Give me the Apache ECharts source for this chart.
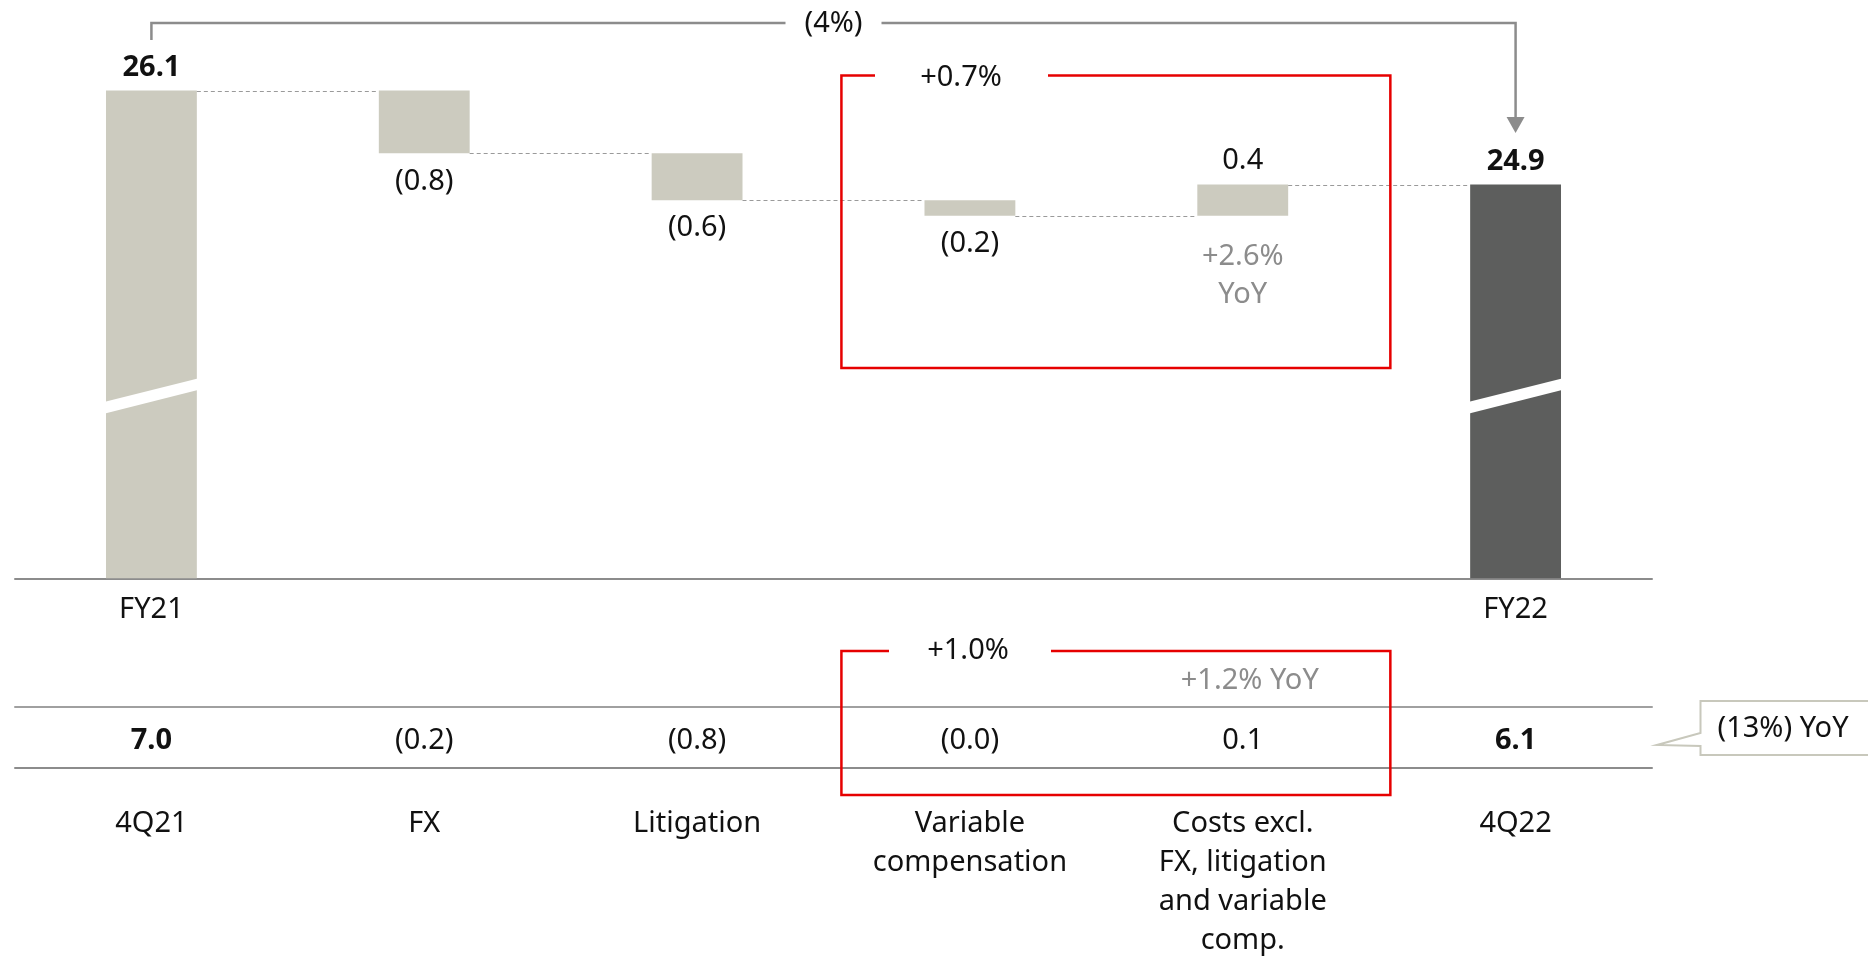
<!DOCTYPE html>
<html>
<head>
<meta charset="utf-8">
<title>Cost bridge</title>
<script src="https://cdn.jsdelivr.net/npm/echarts@6.0.0/dist/echarts.min.js"></script>
<style>
  html, body { margin: 0; padding: 0; background: #fff; }
  #costBridge { width: 1868px; height: 960px; }
</style>
</head>
<body>
<div id="costBridge"></div>
<script>
// chart data
const categories = ['4Q21', 'FX', 'Litigation', 'Variable\ncompensation', 'Costs excl.\nFX, litigation\nand variable\ncomp.', '4Q22'];
const fyLabels = ['FY21', '', '', '', '', 'FY22'];
const fyTotals = [26.1, null, null, null, null, 24.9];
const fyDeltas = [null, -0.8, -0.6, -0.2, 0.4, null];
const fyNotes = ['', '', '', '', '+2.6%\nYoY', ''];
const quarterValues = ['7.0', '(0.2)', '(0.8)', '(0.0)', '0.1', '6.1'];
const totalChange = '(4%)';
const boxChangeFY = '+0.7%';
const boxChangeQ = '+1.0%';
const quarterNote = '+1.2% YoY';
const quarterYoY = '(13%) YoY';

const yMin = 19.87;
const yMax = 26.9;
const breakAt = 22.2; // where the axis break slash sits
const font = 'Noto Sans';
const ink = '#111';
const grey = '#8c8c8c';
const red = '#e60000';

function fmt(v) {
  return v < 0 ? '(' + Math.abs(v).toFixed(1) + ')' : v.toFixed(1);
}

// waterfall rows: [index, low, high, level carried to next bar]
let running = 0;
const rows = categories.map((c, i) => {
  if (fyTotals[i] != null) {
    running = fyTotals[i];
    return [i, yMin, fyTotals[i], fyTotals[i]];
  }
  const start = running;
  running = +(running + fyDeltas[i]).toFixed(1);
  return [i, Math.min(start, running), Math.max(start, running), running];
});

let myChart = echarts.init(document.getElementById('costBridge'));

let option = {
  animation: false,
  textStyle: { fontFamily: font },
  grid: { left: 15, right: 216, top: 28, bottom: 377.3 },
  xAxis: [
    {
      type: 'category',
      data: categories,
      axisLine: { lineStyle: { color: grey, width: 2 } },
      axisTick: { show: false },
      axisLabel: {
        interval: 0, margin: 12, fontSize: 29, lineHeight: 39, color: ink,
        formatter: (v, i) => fyLabels[i]
      }
    },
    {
      type: 'category',
      data: categories,
      position: 'bottom',
      offset: 128.5,
      axisLine: { lineStyle: { color: '#a0a0a0', width: 2 } },
      axisTick: { show: false },
      axisLabel: {
        interval: 0, margin: 14, fontSize: 29, lineHeight: 39, color: ink,
        formatter: (v, i) => (fyTotals[i] != null ? '{b|' + quarterValues[i] + '}' : quarterValues[i]),
        rich: { b: { fontWeight: 'bold', fontSize: 29, lineHeight: 39, color: ink, fontFamily: font } }
      }
    },
    {
      type: 'category',
      data: categories,
      position: 'bottom',
      offset: 189.7,
      axisLine: { lineStyle: { color: grey, width: 2 } },
      axisTick: { show: false },
      axisLabel: { interval: 0, margin: 36, fontSize: 29, lineHeight: 39, color: ink }
    }
  ],
  yAxis: { type: 'value', min: yMin, max: yMax, show: false, splitLine: { show: false } },
  series: [
    {
      type: 'custom',
      data: rows,
      encode: { x: 0, y: [1, 2] },
      renderItem: function (params, api) {
        const i = api.value(0);
        const top = api.coord([i, api.value(2)]);
        const bottom = api.coord([i, api.value(1)]);
        const band = api.size([1, 0])[0];
        const w = band * 0.333;
        const isTotal = fyTotals[i] != null;
        const children = [{
          type: 'rect',
          shape: { x: top[0] - w / 2, y: top[1], width: w, height: bottom[1] - top[1] },
          style: { fill: i === categories.length - 1 ? '#5d5e5d' : '#cccbbf' }
        }];
        // dashed connector to next bar
        if (i < categories.length - 1) {
          const ly = Math.round(api.coord([i, api.value(3)])[1]) + 0.5;
          children.push({
            type: 'line',
            shape: { x1: top[0] + w / 2, y1: ly, x2: top[0] + band - w / 2, y2: ly },
            style: { stroke: '#9a9a9a', lineWidth: 1, lineDash: [4, 3] }
          });
        }
        if (isTotal) {
          const yc = api.coord([i, breakAt])[1];
          const xl = top[0] - w / 2 - 1, xr = top[0] + w / 2 + 1;
          children.push({
            type: 'polygon',
            shape: { points: [[xl, yc + 5.9], [xr, yc - 17.5], [xr, yc - 5.8], [xl, yc + 17.5]] },
            style: { fill: '#fff' }
          });
          children.push({
            type: 'text',
            style: {
              text: fyTotals[i].toFixed(1), x: top[0], y: top[1] - 22.5,
              align: 'center', verticalAlign: 'middle',
              fontFamily: font, fontSize: 29, fontWeight: 'bold', fill: ink
            }
          });
        } else {
          const d = fyDeltas[i];
          children.push({
            type: 'text',
            style: {
              text: fmt(d), x: top[0], y: d < 0 ? bottom[1] + 28 : top[1] - 24,
              align: 'center', verticalAlign: 'middle',
              fontFamily: font, fontSize: 29, fill: ink
            }
          });
          if (fyNotes[i]) {
            children.push({
              type: 'text',
              style: {
                text: fyNotes[i], x: top[0], y: bottom[1] + 60,
                align: 'center', verticalAlign: 'middle', lineHeight: 38,
                fontFamily: font, fontSize: 29, fill: grey
              }
            });
          }
        }
        return { type: 'group', children: children };
      }
    }
  ]
};
myChart.setOption(option);

// annotations: bracket, red boxes, callout
const cx = i => myChart.convertToPixel({ seriesIndex: 0 }, [i, yMax])[0];
const x0 = cx(0), x5 = cx(categories.length - 1);
const mid = (x0 + x5) / 2;
const boxL = cx(3) - 128.5, boxR = cx(4) + 147.6;
const txt = (text, x, y, color, extra) => Object.assign({
  type: 'text', x: x, y: y, z: 10,
  style: { text: text, align: 'center', verticalAlign: 'middle', fontFamily: font, fontSize: 29, fill: color || ink }
}, extra || {});

myChart.setOption({
  graphic: [
    { type: 'polyline', z: 10, shape: { points: [[x0, 40], [x0, 23], [mid - 48, 23]] }, style: { stroke: grey, lineWidth: 2.5, fill: null } },
    { type: 'polyline', z: 10, shape: { points: [[mid + 48, 23], [x5, 23], [x5, 119]] }, style: { stroke: grey, lineWidth: 2.5, fill: null } },
    { type: 'polygon', z: 10, shape: { points: [[x5 - 9, 117], [x5 + 9, 117], [x5, 133]] }, style: { fill: grey } },
    txt(totalChange, mid, 24),

    { type: 'polyline', z: 10, shape: { points: [[875, 75.5], [boxL, 75.5], [boxL, 368], [boxR, 368], [boxR, 75.5], [1048, 75.5]] }, style: { stroke: red, lineWidth: 2.5, fill: null } },
    txt(boxChangeFY, 961, 78),

    { type: 'polyline', z: 10, shape: { points: [[889, 651], [boxL, 651], [boxL, 795], [boxR, 795], [boxR, 651], [1051, 651]] }, style: { stroke: red, lineWidth: 2.5, fill: null } },
    txt(boxChangeQ, 968, 651),
    txt(quarterNote, cx(4) + 7, 681, grey),

    { type: 'polygon', z: 10, shape: { points: [[1700.5, 701], [1880, 701], [1880, 755], [1700.5, 755], [1700.5, 746], [1657, 745], [1700.5, 733]] }, style: { fill: '#fff', stroke: '#c8c8bc', lineWidth: 2 } },
    txt(quarterYoY, 1783, 729, ink, { z: 11 })
  ]
});
window.onresize = myChart.resize;
</script>
</body>
</html>
